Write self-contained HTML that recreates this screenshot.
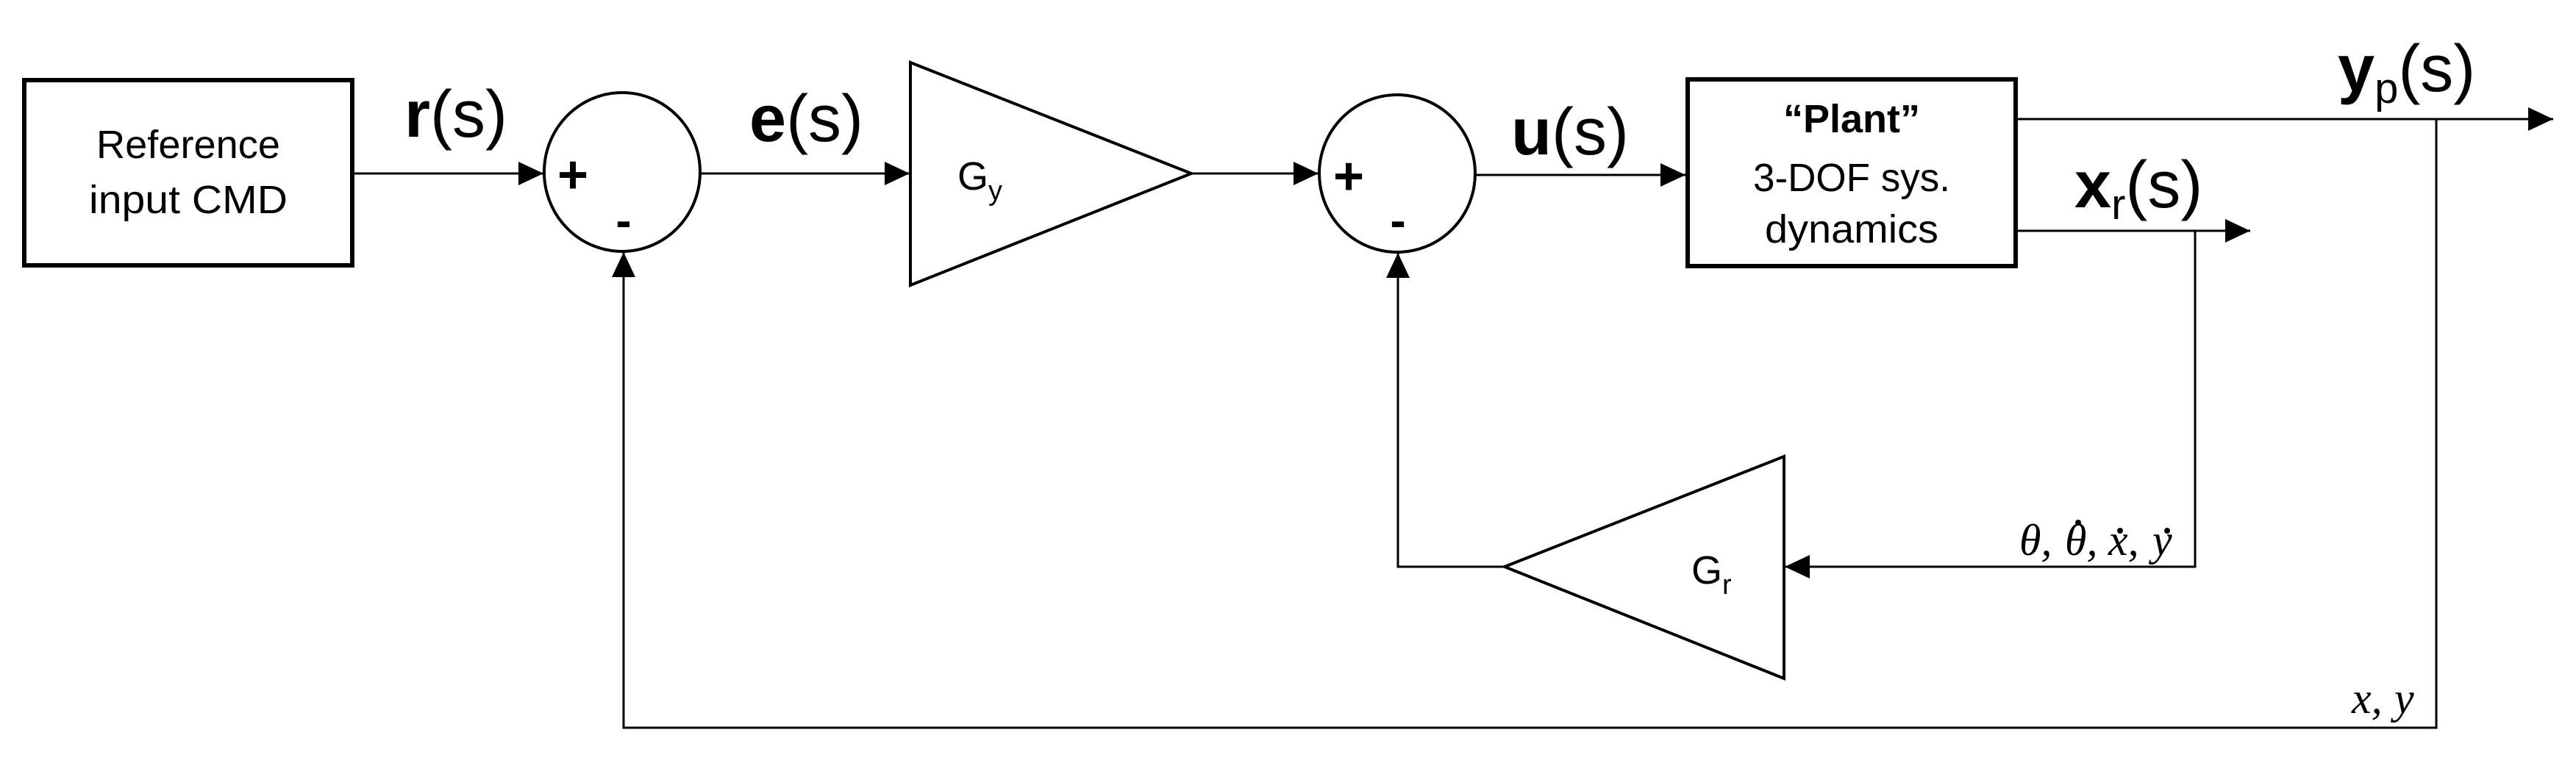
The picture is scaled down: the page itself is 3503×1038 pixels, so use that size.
<!DOCTYPE html>
<html><head><meta charset="utf-8"><style>
html,body{margin:0;padding:0;background:#fff;}
svg{display:block;}
text{font-family:"Liberation Sans",sans-serif;fill:#000;}
.m{font-family:"Liberation Serif",serif;font-style:italic;font-size:60px;}
</style></head><body>
<svg width="3503" height="1038" viewBox="0 0 3503 1038" xmlns="http://www.w3.org/2000/svg">
<defs>
<marker id="a" markerWidth="34" markerHeight="32" refX="34" refY="16" orient="auto" markerUnits="userSpaceOnUse">
<path d="M0,0 L34,16 L0,32 Z" fill="#000"/>
</marker>
</defs>
<g stroke="#000" fill="none">
<rect x="33" y="109" width="446" height="252" stroke-width="6"/>
<rect x="2295" y="108" width="446" height="254" stroke-width="6"/>
<ellipse cx="846" cy="234" rx="106" ry="108" stroke-width="4"/>
<ellipse cx="1900" cy="236" rx="106" ry="107" stroke-width="4"/>
<polygon points="1238,85 1620,236 1238,388" stroke-width="4"/>
<polygon points="2426,621 2046,771 2426,923" stroke-width="4"/>
<g stroke-width="3">
<line x1="480" y1="236" x2="739" y2="236" marker-end="url(#a)"/>
<line x1="954" y1="236" x2="1237" y2="236" marker-end="url(#a)"/>
<line x1="1620" y1="236" x2="1793" y2="236" marker-end="url(#a)"/>
<line x1="2007" y1="238" x2="2292" y2="238" marker-end="url(#a)"/>
<line x1="2742" y1="162" x2="3472" y2="162" marker-end="url(#a)"/>
<line x1="2742" y1="314" x2="3060" y2="314" marker-end="url(#a)"/>
<polyline points="3313,162 3313,990 848,990 848,343" marker-end="url(#a)"/>
<polyline points="2985,314 2985,771 2427,771" marker-end="url(#a)"/>
<polyline points="2046,771 1901,771 1901,344" marker-end="url(#a)"/>
</g>
</g>
<text x="256" y="215" font-size="54" text-anchor="middle" textLength="250" lengthAdjust="spacingAndGlyphs">Reference</text>
<text x="256" y="290" font-size="54" text-anchor="middle" textLength="270" lengthAdjust="spacingAndGlyphs">input CMD</text>
<text x="2518" y="180" font-size="54" font-weight="bold" text-anchor="middle">“Plant”</text>
<text x="2518" y="260" font-size="54" text-anchor="middle" textLength="268" lengthAdjust="spacingAndGlyphs">3-DOF sys.</text>
<text x="2518" y="330" font-size="54" text-anchor="middle" textLength="236" lengthAdjust="spacingAndGlyphs">dynamics</text>
<text x="779" y="262" font-size="72" font-weight="bold" text-anchor="middle">+</text>
<text x="848" y="322" font-size="64" font-weight="bold" text-anchor="middle">-</text>
<text x="1834" y="264" font-size="72" font-weight="bold" text-anchor="middle">+</text>
<text x="1901" y="322" font-size="64" font-weight="bold" text-anchor="middle">-</text>
<text x="1302" y="258" font-size="54">G<tspan font-size="38" dy="14">y</tspan></text>
<text x="2300" y="794" font-size="54">G<tspan font-size="38" dy="14">r</tspan></text>
<text x="550" y="186" font-size="90"><tspan font-weight="bold">r</tspan>(s)</text>
<text x="1019" y="192" font-size="90"><tspan font-weight="bold">e</tspan>(s)</text>
<text x="2055" y="210" font-size="90"><tspan font-weight="bold">u</tspan>(s)</text>
<text x="3179" y="124" font-size="90"><tspan font-weight="bold">y</tspan><tspan font-size="58" dy="16">p</tspan><tspan dy="-16">(s)</tspan></text>
<text x="2821" y="282" font-size="90"><tspan font-weight="bold">x</tspan><tspan font-size="58" dy="16">r</tspan><tspan dy="-16">(s)</tspan></text>
<text class="m" x="2746" y="755">θ,</text>
<text class="m" x="2808" y="755">θ,</text>
<text class="m" x="2867" y="755">x,</text>
<text class="m" x="2927" y="755">y</text>
<circle cx="2826" cy="711" r="4" fill="#000"/>
<circle cx="2883" cy="722" r="4" fill="#000"/>
<circle cx="2947" cy="722" r="4" fill="#000"/>
<text class="m" x="3198" y="970">x,</text>
<text class="m" x="3256" y="970">y</text>
</svg>
</body></html>
